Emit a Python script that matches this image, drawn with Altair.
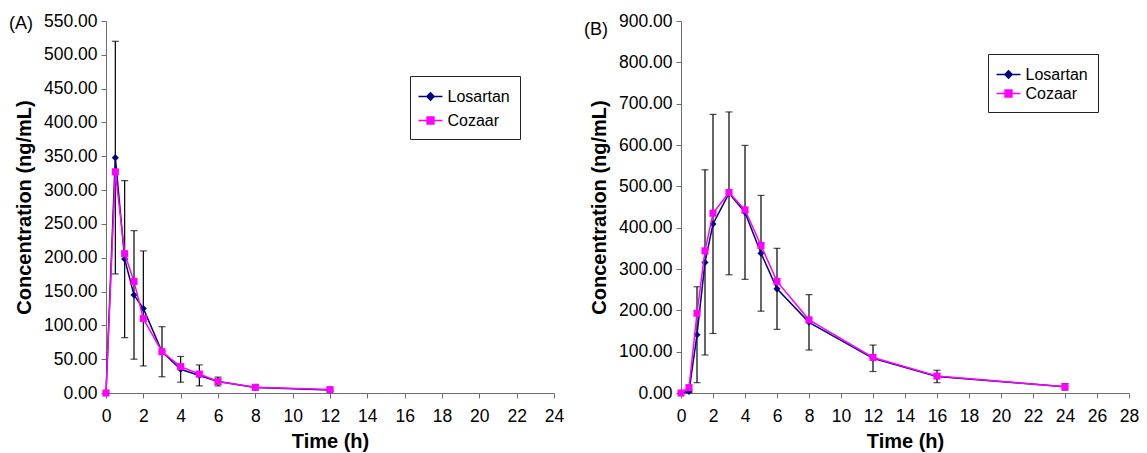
import altair as alt
import pandas as pd

# ---------------- data ----------------
series_names = ["Losartan", "Cozaar"]
series_colors = ["#000080", "#FF00FF"]
legend_paths = [
    "M-1.26,0H1.26M0,-0.38L0.38,0L0,0.38L-0.38,0Z",
    "M-1.26,0H1.26M-0.36,-0.36H0.36V0.36H-0.36Z",
]

time_a = [0, 0.5, 1, 1.5, 2, 3, 4, 5, 6, 8, 12]
losartan_a = [0, 348, 198, 145, 125, 61, 35, 26, 17, 8, 4.5]
losartan_a_sd = [0, 172, 116, 95, 85, 37, 19, 15.5, 6.5, 3.5, 2]
cozaar_a = [0, 327, 206, 165, 110, 61, 39, 28, 17, 8.5, 5]

time_b = [0, 0.5, 1, 1.5, 2, 3, 4, 5, 6, 8, 12, 16, 24]
losartan_b = [0, 4, 141, 316, 409, 483, 437, 338, 252, 171, 84, 40, 15]
losartan_b_sd = [0, 3, 116, 224, 265, 197, 162, 140, 98, 67, 32, 15, 8]
cozaar_b = [0, 13, 193, 344, 435, 485, 443, 357, 270, 177, 86, 41, 15]

x_ticks_a = list(range(0, 25, 2))
x_ticks_b = list(range(0, 29, 2))
y_ticks_a = list(range(0, 551, 50))
y_ticks_b = list(range(0, 901, 100))

panel_labels = ["(A)", "(B)"]


def frame(times, los, los_sd, coz):
    rows = []
    for t, v, s in zip(times, los, los_sd):
        rows.append({"time": t, "conc": v, "sd": s, "series": "Losartan"})
    for t, v in zip(times, coz):
        rows.append({"time": t, "conc": v, "sd": 0, "series": "Cozaar"})
    return pd.DataFrame(rows)


FONT = "Liberation Sans"
AXIS_COLOR = "#6e6e6e"


def panel(df, x_ticks, y_ticks, label, label_y, lx, ly, row_pad):
    xmax = x_ticks[-1]
    ymax = y_ticks[-1]
    x_enc = alt.X(
        "time:Q",
        scale=alt.Scale(domain=[0, xmax], nice=False, zero=True),
        axis=alt.Axis(
            values=x_ticks, title="Time (h)", grid=False, domainColor=AXIS_COLOR,
            tickColor=AXIS_COLOR, tickSize=5, labelPadding=9, labelFontSize=17.5,
            labelColor="black", titleFontSize=20, titleFontWeight="bold",
            titlePadding=7, labelFlush=False, labelOverlap=False,
        ),
    )
    y_axis = alt.Axis(
        values=y_ticks, format=".2f", title="Concentration (ng/mL)", grid=False,
        domainColor=AXIS_COLOR, tickColor=AXIS_COLOR, tickSize=5, labelPadding=4,
        labelFontSize=17.5, labelColor="black", titleFontSize=20,
        titleFontWeight="bold", titlePadding=9, labelOverlap=False,
    )
    y_scale = alt.Scale(domain=[0, ymax], nice=False)

    legend = alt.Legend(
        title=None, orient="none", legendX=lx, legendY=ly, strokeColor="#222222",
        fillColor="white", padding=10, rowPadding=row_pad, labelFontSize=16,
        labelFont=FONT, symbolSize=361, labelOffset=6.5, symbolStrokeWidth=1.5,
        symbolOpacity=1,
    )

    base = alt.Chart(df)
    err = base.transform_filter(
        (alt.datum.series == "Losartan") & (alt.datum.sd > 0)
    ).transform_calculate(lo="datum.conc - datum.sd", hi="datum.conc + datum.sd")

    rules = err.mark_rule(color="black", strokeWidth=1.2).encode(
        x=x_enc, y=alt.Y("lo:Q", scale=y_scale, axis=y_axis), y2="hi:Q"
    )
    cap_lo = err.mark_tick(color="black", orient="horizontal", size=7, thickness=1.2).encode(
        x=x_enc, y=alt.Y("lo:Q", scale=y_scale, axis=y_axis)
    )
    cap_hi = err.mark_tick(color="black", orient="horizontal", size=7, thickness=1.2).encode(
        x=x_enc, y=alt.Y("hi:Q", scale=y_scale, axis=y_axis)
    )

    layers = [rules, cap_lo, cap_hi]
    for name, shape, col in zip(series_names, ["diamond", "square"], series_colors):
        sub = base.transform_filter(alt.datum.series == name)
        y_enc = alt.Y("conc:Q", scale=y_scale, axis=y_axis)
        layers.append(sub.mark_line(strokeWidth=1.5, color=col).encode(x=x_enc, y=y_enc))
        layers.append(
            sub.mark_point(filled=True, size=50, shape=shape, opacity=1, color=col).encode(
                x=x_enc, y=y_enc
            )
        )

    # legend-only layer (zero-size marks): line + marker symbols
    key = base.mark_point(filled=True, size=0, strokeWidth=1.5).encode(
        x=x_enc,
        y=alt.Y("conc:Q", scale=y_scale, axis=y_axis),
        color=alt.Color("series:N", scale=alt.Scale(domain=series_names, range=series_colors), legend=legend),
        stroke=alt.Stroke("series:N", scale=alt.Scale(domain=series_names, range=series_colors), legend=legend),
        shape=alt.Shape("series:N", scale=alt.Scale(domain=series_names, range=legend_paths), legend=legend),
    )
    layers.append(key)

    # panel letter
    tag = alt.Chart(pd.DataFrame({"label": [label]})).mark_text(
        align="left", baseline="middle", fontSize=18, font=FONT, color="black"
    ).encode(text="label:N", x=alt.value(-97), y=alt.value(label_y))
    layers.append(tag)

    return alt.layer(*layers).properties(width=448, height=372)


df_a = frame(time_a, losartan_a, losartan_a_sd, cozaar_a)
df_b = frame(time_b, losartan_b, losartan_b_sd, cozaar_b)

pa = panel(df_a, x_ticks_a, y_ticks_a, panel_labels[0], 3, 304, 55, 5)
pb = panel(df_b, x_ticks_b, y_ticks_b, panel_labels[1], 9, 307, 33, 0)

chart = (
    alt.hconcat(pa, pb, spacing=20)
    .resolve_scale(x="independent", y="independent", color="independent",
                   stroke="independent", shape="independent")
    .resolve_legend(color="independent", stroke="independent", shape="independent")
    .properties(padding={"left": 1, "top": 4, "right": 0, "bottom": 0})
    .configure(font=FONT)
    .configure_view(stroke=None)
)

chart.save("out.html", embed_options={"renderer": "svg", "actions": False})
